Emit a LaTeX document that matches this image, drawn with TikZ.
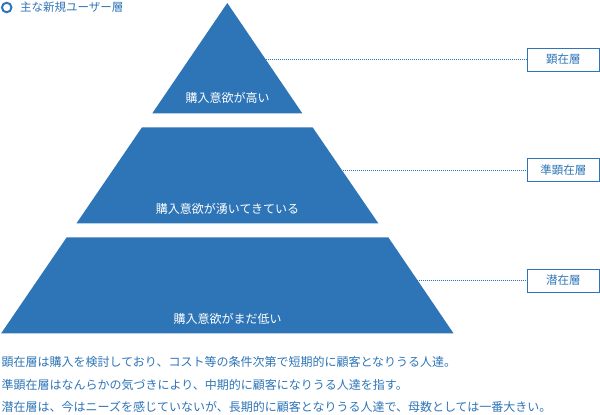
\documentclass[tikz,border=0pt]{standalone}
\usepackage{fontspec}
\setmainfont{Noto Sans CJK JP}
\definecolor{tierblue}{RGB}{46,117,183}
\tikzset{
	tier/.style={fill=tierblue},
	tierlabel/.style={text=white,inner sep=0pt,font=\fontsize{12}{14}\selectfont},
	layerbox/.style={draw=tierblue,line width=1pt,text=tierblue,minimum width=72pt,minimum height=23pt,inner sep=0pt,font=\fontsize{11.5}{14}\selectfont},
	leader/.style={draw=tierblue,line width=0.8pt,dash pattern=on 0.8pt off 1.2pt},
	note/.style={anchor=west,inner sep=0pt,text=tierblue,font=\fontsize{12}{14}\selectfont}
}
\begin{document}
\begin{tikzpicture}[x=1pt,y=-1pt]
	\useasboundingbox (0,0) rectangle (600,415);
	\fill[tier] (227.3,3) -- (302.3,113.3) -- (152.3,113.3) -- cycle;
	\fill[tier] (142,127.3) -- (312.6,127.3) -- (378.3,223.3) -- (76.5,223.3) -- cycle;
	\fill[tier] (66.7,237.3) -- (388.3,237.3) -- (453.5,333.3) -- (1.2,333.3) -- cycle;
	\node[tierlabel] (l1) at (227.5,98) {購入意欲が高い};
	\node[tierlabel] (l2) at (227.5,208.5) {購入意欲が湧いてきている};
	\node[tierlabel] (l3) at (227.5,318.5) {購入意欲がまだ低い};
	\coordinate (e1) at (265.5,59.5);
	\coordinate (e2) at (341,170);
	\coordinate (e3) at (416.5,280.5);
	\node[layerbox] (b1) at (563.3,59.5) {顕在層};
	\node[layerbox] (b2) at (563.3,170) {準顕在層};
	\node[layerbox] (b3) at (563.3,280.5) {潜在層};
	\draw[leader] (e1) -- (b1);
	\draw[leader] (e2) -- (b2);
	\draw[leader] (e3) -- (b3);
	\node[draw=tierblue,line width=2pt,circle,minimum size=9.5pt,inner sep=0pt] (mark) at (6.7,7.5) {};
	\node[note,font=\fontsize{11.5}{14}\selectfont] (title) at (20,7.5) {主な新規ユーザー層};
	\node[note] (n1) at (1.5,362) {顕在層は購入を検討しており、コスト等の条件次第で短期的に顧客となりうる人達。};
	\node[note] (n2) at (1.5,384.5) {準顕在層はなんらかの気づきにより、中期的に顧客になりうる人達を指す。};
	\node[note] (n3) at (1.5,407) {潜在層は、今はニーズを感じていないが、長期的に顧客となりうる人達で、母数としては一番大きい。};
\end{tikzpicture}
\end{document}
